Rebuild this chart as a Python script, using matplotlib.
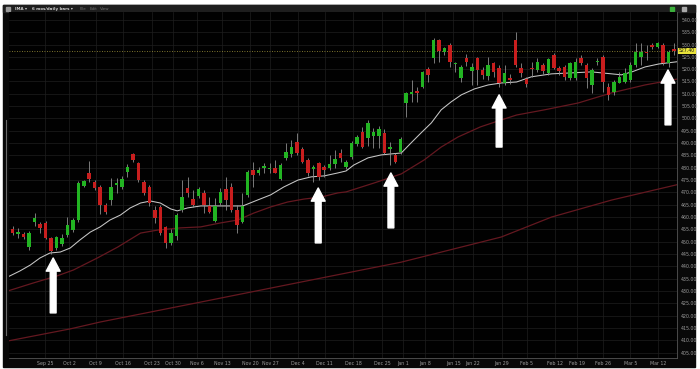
import matplotlib
matplotlib.use("Agg")
import matplotlib.pyplot as plt
import matplotlib.transforms as mtransforms
from matplotlib.patches import Rectangle
import numpy as np

# daily bars, Sep 15 -> Mar 15 (trading day index)
opens = [455.0, 453.3, 453.0, 447.7, 457.9, 457.2, 457.6, 451.5, 447.4, 449.0,
         452.7, 454.7, 458.8, 472.6, 477.9, 474.2, 472.2, 464.9, 466.9, 473.0,
         472.2, 478.3, 485.6, 481.9, 474.2, 472.2, 462.9, 464.1, 455.9, 449.5,
         452.3, 462.9, 471.8, 467.3, 468.5, 469.8, 464.5, 458.4, 465.7, 471.4,
         472.2, 462.9, 458.0, 469.0, 479.1, 477.9, 479.9, 479.5, 479.9, 475.4,
         484.0, 485.6, 490.5, 487.6, 483.2, 479.5, 481.9, 480.3, 479.9, 481.5,
         486.0, 480.3, 484.4, 489.7, 494.5, 492.1, 492.9, 492.9, 494.1, 487.6,
         485.2, 486.4, 506.3, 510.0, 511.2, 512.8, 520.1, 524.6, 531.9, 527.0,
         529.9, 522.1, 516.5, 524.6, 519.3, 524.6, 519.7, 517.3, 522.5, 520.5,
         514.4, 516.5, 531.9, 520.5, 516.1, 520.5, 519.7, 521.7, 518.5, 525.8,
         520.5, 520.9, 516.5, 516.5, 524.6, 521.7, 513.6, 523.0, 525.0, 512.8,
         510.8, 514.4, 514.8, 515.6, 521.7, 525.0, 527.0, 529.9, 529.0, 529.9,
         522.5, 528.2]
highs = [456.4, 455.5, 453.8, 454.2, 461.6, 458.0, 458.2, 452.0, 452.4, 453.0,
         460.0, 459.6, 474.6, 475.2, 482.8, 475.0, 473.0, 465.5, 475.9, 475.9,
         476.5, 481.5, 486.0, 482.5, 475.0, 473.0, 464.5, 464.9, 456.4, 455.0,
         461.6, 475.0, 476.3, 471.0, 472.2, 471.0, 468.1, 467.7, 471.8, 476.3,
         473.8, 464.9, 469.8, 479.1, 482.3, 480.3, 481.9, 481.9, 483.2, 481.9,
         490.1, 491.3, 494.1, 488.4, 484.0, 481.1, 482.3, 481.1, 485.2, 487.2,
         487.6, 483.2, 490.9, 493.3, 496.6, 499.4, 496.2, 497.0, 495.7, 490.5,
         486.0, 492.5, 510.8, 515.6, 512.8, 519.3, 520.9, 532.7, 532.3, 529.0,
         530.7, 523.0, 521.7, 526.2, 522.5, 525.0, 521.0, 525.0, 523.0, 521.7,
         521.7, 518.0, 535.0, 522.5, 516.9, 523.0, 524.6, 522.5, 524.6, 526.6,
         521.3, 521.7, 523.0, 524.6, 525.8, 522.5, 520.5, 524.6, 525.8, 514.4,
         515.6, 518.9, 520.5, 523.0, 530.7, 530.7, 529.9, 530.7, 531.1, 530.7,
         527.8, 530.7]
lows = [452.7, 451.5, 451.2, 446.5, 456.4, 453.5, 451.0, 445.2, 446.8, 448.2,
        451.9, 454.0, 458.0, 472.0, 474.2, 471.0, 461.2, 461.2, 464.9, 469.8,
        471.4, 476.3, 482.5, 474.2, 469.0, 464.5, 457.6, 452.7, 447.4, 448.5,
        450.7, 462.0, 468.1, 464.1, 467.7, 461.6, 461.6, 458.0, 464.9, 462.9,
        462.0, 453.5, 457.6, 468.1, 472.2, 477.1, 477.9, 477.9, 477.9, 475.0,
        483.2, 484.4, 485.2, 481.9, 476.7, 474.2, 475.0, 476.3, 479.1, 479.9,
        482.3, 479.5, 483.6, 488.8, 488.0, 488.8, 488.0, 488.0, 485.6, 481.1,
        481.9, 485.6, 500.6, 506.7, 506.7, 512.4, 514.8, 522.5, 523.0, 525.8,
        520.9, 518.9, 514.8, 521.3, 513.6, 513.6, 516.0, 515.6, 516.9, 512.8,
        513.6, 513.8, 520.9, 516.9, 512.8, 516.9, 518.9, 518.1, 517.7, 520.1,
        517.7, 515.6, 515.6, 515.6, 521.7, 512.4, 510.4, 521.7, 510.8, 507.5,
        509.6, 514.4, 514.4, 514.8, 520.9, 521.7, 523.8, 528.2, 528.6, 521.7,
        520.9, 525.8]
closes = [453.5, 453.9, 451.8, 453.6, 459.6, 455.6, 451.5, 446.2, 451.9, 451.5,
          456.8, 458.8, 473.8, 474.6, 475.5, 471.8, 464.9, 462.0, 472.2, 473.8,
          475.5, 480.3, 483.2, 475.0, 469.8, 465.7, 459.6, 453.5, 449.5, 453.5,
          460.8, 468.1, 469.8, 464.9, 471.4, 464.9, 462.0, 464.5, 470.2, 466.9,
          462.9, 456.8, 464.5, 478.3, 477.1, 479.1, 480.7, 480.0, 477.9, 481.1,
          486.4, 488.4, 486.0, 482.3, 477.9, 480.3, 476.3, 479.1, 481.5, 483.6,
          484.0, 482.3, 490.1, 492.5, 488.4, 498.2, 494.5, 495.7, 486.0, 488.4,
          482.3, 491.7, 510.4, 510.8, 510.4, 518.9, 517.7, 531.9, 527.4, 528.6,
          523.0, 522.5, 520.9, 523.0, 520.9, 519.7, 517.7, 521.7, 518.9, 514.4,
          518.5, 515.6, 521.7, 518.5, 514.0, 519.9, 523.0, 519.3, 524.2, 520.5,
          519.3, 516.9, 522.5, 523.0, 522.5, 516.5, 519.7, 523.4, 514.8, 509.6,
          514.8, 516.9, 518.5, 521.7, 527.0, 527.0, 526.6, 529.0, 530.7, 522.5,
          527.0, 527.4]

# moving averages (bar index, price)
ma_fast_x = [-0.9, 1.3, 3.2, 5.0, 6.8, 8.7, 10.5, 12.3, 14.2, 16.0, 17.8, 19.7, 21.5,
             23.4, 25.2, 27.0, 28.9, 30.1, 32.0, 34.4, 36.2, 39.9, 42.1, 44.8, 47.2,
             49.6, 52.2, 54.6, 57.0, 59.5, 61.0, 62.4, 65.0, 67.4, 69.2, 71.1, 72.9,
             74.7, 76.6, 78.4, 80.2, 82.1, 84.5, 87.0, 89.4, 92.2, 94.9, 98.6, 102.3,
             105.9, 109.6, 111.4, 113.3, 115.7, 118.2, 121.5]
ma_fast_y = [435.7, 438.1, 440.5, 443.4, 445.4, 445.8, 447.4, 450.7, 453.9, 456.0, 458.8,
             460.8, 463.7, 465.7, 466.5, 465.7, 463.3, 462.5, 463.7, 464.5, 464.5, 464.5,
             464.5, 466.9, 469.0, 472.2, 475.0, 476.3, 476.7, 477.9, 478.7, 481.1, 484.0,
             485.2, 485.6, 486.0, 490.1, 494.1, 498.2, 503.5, 506.7, 509.6, 512.0, 513.6,
             514.4, 514.8, 516.9, 518.1, 518.5, 518.9, 518.1, 517.7, 518.9, 520.9, 522.1,
             523.0]
ma_mid_x = [-0.9, 3.7, 8.1, 11.1, 15.5, 19.2, 23.4, 26.5, 30.7, 34.4, 38.0, 41.2, 44.1,
            47.2, 50.3, 53.3, 56.4, 59.5, 61.0, 66.1, 71.1, 75.3, 78.4, 81.5, 85.6, 89.4,
            92.2, 97.3, 103.5, 109.6, 115.7, 121.6]
ma_mid_y = [430.0, 433.2, 436.1, 438.5, 443.4, 447.8, 453.5, 454.7, 455.6, 456.0, 457.6,
            458.8, 461.6, 464.1, 466.1, 467.3, 468.1, 469.8, 470.2, 473.8, 477.5, 483.2,
            488.4, 492.5, 496.6, 499.4, 501.4, 503.5, 506.3, 510.4, 513.6, 516.0]
ma_slow_x = [-0.9, 10.5, 16.0, 34.4, 52.7, 71.1, 89.4, 98.6, 109.6, 122.1]
ma_slow_y = [409.7, 414.6, 417.4, 425.5, 433.6, 441.7, 451.9, 460.0, 466.9, 473.4]

# week labels and where they sit (bar index)
week_labels = ["Sep 25", "Oct 2", "Oct 9", "Oct 16", "Oct 23", "Oct 30", "Nov 6",
               "Nov 13", "Nov 20", "Nov 27", "Dec 4", "Dec 11", "Dec 18", "Dec 25",
               "Jan 1", "Jan 8", "Jan 15", "Jan 22", "Jan 29", "Feb 5", "Feb 12",
               "Feb 19", "Feb 26", "Mar 5", "Mar 12"]
week_pos = [5.9, 10.3, 15.2, 20.2, 25.5, 29.3, 33.7, 38.3, 43.4, 47.1, 52.2, 57.1,
            62.3, 67.6, 71.4, 75.4, 80.6, 84.2, 89.5, 94.1, 99.2, 103.3, 108.0, 113.0,
            118.1]

# white arrows: bar index, tip price, tail price
arrow_x = [7.4, 55.9, 69.2, 89.0, 119.9]
arrow_tip = [443.4, 471.8, 477.9, 509.6, 519.7]
arrow_tail = [421.1, 449.5, 455.6, 488.4, 497.4]

W, H = 700, 369
fig = plt.figure(figsize=(W / 100, H / 100), dpi=100, facecolor="white")

# application window frame (behind the axes)
fig.patches.append(Rectangle((3 / W, 1 - 367 / H), 692 / W, 362 / H,
                             transform=fig.transFigure, color="#080808", zorder=-10))
fig.patches.append(Rectangle((3 / W, 1 - 12 / H), 692 / W, 7 / H,
                             transform=fig.transFigure, color="#1e1e1e", zorder=-9))
hdr = dict(fontsize=2.9, va="center")
fig.text(15 / W, 1 - 8.7 / H, "IMA \u25be", color="#d0d0d0", fontweight="bold", **hdr)
fig.text(32 / W, 1 - 8.7 / H, "6 mos/daily bars \u25be", color="#d0d0d0",
         fontweight="bold", **hdr)
fig.text(80 / W, 1 - 8.7 / H, "File", color="#6e6e6e", **hdr)
fig.text(90 / W, 1 - 8.7 / H, "Edit", color="#6e6e6e", **hdr)
fig.text(100 / W, 1 - 8.7 / H, "View", color="#6e6e6e", **hdr)
fig.patches.append(Rectangle((6 / W, 1 - 11 / H), 4 / W, 4 / H,
                             transform=fig.transFigure, color="#9a9a9a", zorder=-8))
fig.patches.append(Rectangle((670 / W, 1 - 11 / H), 4 / W, 4 / H,
                             transform=fig.transFigure, color="#3bb03b", zorder=-8))
fig.patches.append(Rectangle((682 / W, 1 - 11 / H), 4 / W, 4 / H,
                             transform=fig.transFigure, color="#aaaaaa", zorder=-8))
fig.add_artist(plt.Line2D([5.5 / W, 5.5 / W], [1 - 335 / H, 1 - 120 / H],
                          color="#6a6a6a", lw=0.8, transform=fig.transFigure))

ax = fig.add_axes([9 / W, 1 - 358 / H, 668 / W, 346 / H])
ax.set_zorder(2)
ax.set_facecolor("#010101")

idx = np.arange(len(opens))
o = np.array(opens)
c = np.array(closes)
up = c >= o
body_col = np.where(up, "#22b422", "#c81e1e")
body_h = np.maximum(np.abs(c - o), 0.35)

ax.vlines(idx, lows, highs, color="#8e8e8e", lw=0.6, zorder=3)
ax.bar(idx, body_h, bottom=np.minimum(o, c), width=0.64, color=body_col,
       linewidth=0, zorder=4)

ax.plot(ma_slow_x, ma_slow_y, color="#641820", lw=0.9, zorder=2)
ax.plot(ma_mid_x, ma_mid_y, color="#641820", lw=0.9, zorder=2)
ax.plot(ma_fast_x, ma_fast_y, color="#c8c8c8", lw=0.75, zorder=2)

# last price line + tag
last = closes[-1]
ax.axhline(last, color="#a89a3c", lw=0.6, ls=(0, (1, 2)), zorder=1)
trans = mtransforms.blended_transform_factory(ax.transAxes, ax.transData)
ax.text(1.003, last, f"{last:.2f}", transform=trans, fontsize=3.3, color="#111111",
        va="center", ha="left", clip_on=False,
        bbox=dict(boxstyle="square,pad=0.15", fc="#e8e23a", ec="none"))

for x, t, b in zip(arrow_x, arrow_tip, arrow_tail):
    ax.annotate("", xy=(x, t), xytext=(x, b), zorder=6,
                arrowprops=dict(arrowstyle="simple,head_length=0.95,head_width=1.0,tail_width=0.42",
                                mutation_scale=10, color="white", shrinkA=0, shrinkB=0))

ax.set_xlim(-0.68, 121.55)
ax.set_ylim(402.8, 543.2)
ax.set_xticks(week_pos)
ax.set_xticklabels(week_labels)
yt = np.arange(405, 541, 5)
ax.set_yticks(yt)
ax.set_yticklabels([f"{v:.2f}" for v in yt])
ax.yaxis.tick_right()
ax.tick_params(axis="both", length=0, labelsize=3.4, labelcolor="#9a9a9a")
ax.tick_params(axis="x", pad=2.2)
ax.tick_params(axis="y", pad=3)
ax.grid(True, color="#1f1f1f", lw=0.5)
ax.set_axisbelow(True)
for side in ["top", "left"]:
    ax.spines[side].set_visible(False)
for side in ["right", "bottom"]:
    ax.spines[side].set_color("#555555")
    ax.spines[side].set_linewidth(0.6)

fig.savefig("out.png", dpi=100, facecolor="white")
